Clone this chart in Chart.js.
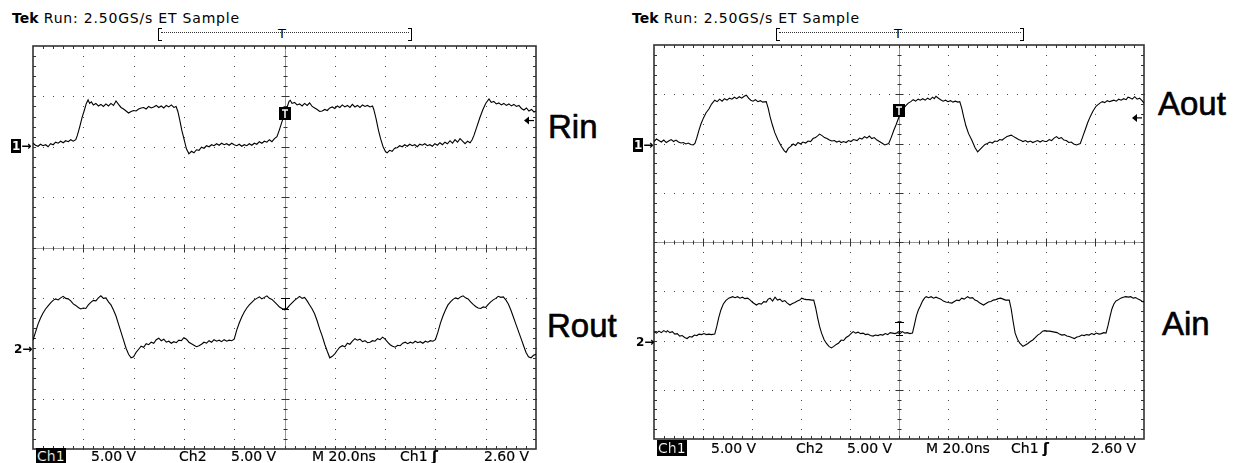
<!DOCTYPE html>
<html>
<head>
<meta charset="utf-8">
<script src="https://cdn.jsdelivr.net/npm/chart.js@4.4.0/dist/chart.umd.min.js"></script>
<style>
  body { margin: 0; width: 1240px; height: 463px; overflow: hidden; position: relative; background: #fff; font-family: "DejaVu Sans", sans-serif; color: #000; }
  .t { position: absolute; white-space: nowrap; line-height: 1; }
  .hdr { font-size: 14px; letter-spacing: 0.8px; }
  .hdr b { font-weight: bold; letter-spacing: 0; }
  .ro { font-size: 14px; -webkit-text-stroke: 0.2px #000; }
  .inv { background: #000; color: #fff; padding: 0 1px; }
  .big { font-family: "Liberation Sans", Arial, sans-serif; font-size: 33px; -webkit-text-stroke: 0.6px #000; }
  .mk { font-size: 12px; font-weight: bold; }
  .brk { position: absolute; height: 11px; width: 3px; border: 1px solid #000; }
  .brk.l { border-right: none; }
  .brk.r { border-left: none; }
  .dots { position: absolute; height: 0; border-top: 1px dotted #333; }
  canvas { position: absolute; }
</style>
</head>
<body>
<!-- left scope -->
<div class="t hdr" style="left:12px; top:11px;"><b>Tek</b> Run: 2.50GS/s ET Sample</div>
<div class="brk l" style="left:158px; top:28px;"></div>
<div class="dots" style="left:161px; top:32px; width:248px;"></div>
<div class="brk r" style="left:408px; top:28px;"></div>
<div class="t" style="left:278px; top:27px; font-size:13px;">T</div>

<!-- right scope -->
<div class="t hdr" style="left:632px; top:11px;"><b>Tek</b> Run: 2.50GS/s ET Sample</div>
<div class="brk l" style="left:776px; top:28px;"></div>
<div class="dots" style="left:779px; top:32px; width:242px;"></div>
<div class="brk r" style="left:1020px; top:28px;"></div>
<div class="t" style="left:894px; top:27px; font-size:13px;">T</div>

<canvas id="leftScope" width="509" height="409" style="left:30px; top:43px;"></canvas>
<canvas id="rightScope" width="496" height="400" style="left:651px; top:42px;"></canvas>

<!-- channel markers -->
<div class="t mk" style="left:11px; top:140px;"><span class="inv">1</span>→</div>
<div class="t mk" style="left:14px; top:343px;">2→</div>
<div class="t mk" style="left:633px; top:139px;"><span class="inv">1</span>→</div>
<div class="t mk" style="left:636px; top:336px;">2→</div>

<!-- trace labels -->
<div class="t big" style="left:548px; top:110px;">Rin</div>
<div class="t big" style="left:547px; top:309px;">Rout</div>
<div class="t big" style="left:1158px; top:87px;">Aout</div>
<div class="t big" style="left:1162px; top:307px;">Ain</div>

<!-- readouts -->
<div class="t ro" style="left:36px; top:449px;"><span class="inv">Ch1</span></div>
<div class="t ro" style="left:91px; top:449px;">5.00 V</div>
<div class="t ro" style="left:179px; top:449px;">Ch2</div>
<div class="t ro" style="left:231px; top:449px;">5.00 V</div>
<div class="t ro" style="left:312px; top:449px;">M 20.0ns</div>
<div class="t ro" style="left:400px; top:449px;">Ch1 <b>ʃ</b></div>
<div class="t ro" style="left:484px; top:449px;">2.60 V</div>

<div class="t ro" style="left:657px; top:441px;"><span class="inv">Ch1</span></div>
<div class="t ro" style="left:711px; top:441px;">5.00 V</div>
<div class="t ro" style="left:796px; top:441px;">Ch2</div>
<div class="t ro" style="left:847px; top:441px;">5.00 V</div>
<div class="t ro" style="left:926px; top:441px;">M 20.0ns</div>
<div class="t ro" style="left:1011px; top:441px;">Ch1 <b>ʃ</b></div>
<div class="t ro" style="left:1091px; top:441px;">2.60 V</div>

<script>
// Time axis: 10 divisions of 20 ns. Vertical: 8 divisions, 5.00 V/div.
const TIME_DIVS = 10;
const NS_PER_DIV = 20;
const V_DIVS = 8;
const VOLTS_PER_DIV = 5;
const CH1_OFFSET_DIV = 2;   // ch1 ground marker
const CH2_OFFSET_DIV = -2;  // ch2 ground marker
const TRIGGER_LEVEL_V = 2.6;
const TRIGGER_TIME_NS = 100;

// [time ns, volts] samples read from the captures
const rinSamples = [
  [0,0.35],[1,0.15],[2,0.05],[3,0.25],[4,0.1],[5,0.2],[6,0.0],[7,0.3],[8,0.2],[9,0.45],
  [10,0.35],[11,0.55],[12,0.4],[13,0.6],[14,0.5],[15,0.7],[16,0.55],[17,0.7],[17.6,1.1],[18.5,1.9],
  [19.5,2.9],[20.5,3.7],[21.2,4.3],[21.9,4.65],[22.5,4.3],[23.2,4.45],[24,4.15],[25,4.3],[26,4.05],[27,4.2],
  [28,4.0],[29,4.25],[30,4.05],[31,4.3],[32,4.1],[33,4.55],[34,4.2],[35,3.9],[36,3.75],[37,3.55],
  [38,3.35],[39,3.5],[40,3.6],[41,3.55],[42,3.75],[43,3.85],[44,3.9],[45,3.75],[46,4.0],[47,3.85],
  [48,3.95],[49,4.1],[50,3.9],[51,4.05],[52,3.85],[53,4.1],[54,3.95],[55,4.15],[56,3.9],[56.9,4.0],
  [57.6,3.5],[58.4,2.6],[59.2,1.6],[60.1,0.7],[61,-0.2],[62,-0.7],[63,-0.45],[64,-0.6],[65,-0.3],[66,-0.35],
  [67,-0.05],[68,-0.15],[69,0.1],[70,0.0],[71,0.2],[72,0.1],[73,0.3],[74,0.15],[75,0.35],[76,0.2],
  [77,0.3],[78,0.15],[79,0.35],[80,0.2],[81,0.1],[82,0.25],[83,0.05],[84,0.2],[85,0.1],[86,0.3],
  [87,0.15],[88,0.35],[89,0.25],[90,0.5],[91,0.35],[92,0.55],[93,0.45],[94,0.7],[95,0.5],[96,0.8],
  [97,1.0],[98,1.7],[99,2.5],[100,3.2],[101,3.9],[101.8,4.5],[102.3,4.6],[103,4.3],[104,4.4],[105,4.15],
  [106,4.25],[107,4.05],[108,4.3],[109,4.1],[110,4.35],[111,4.0],[112,3.85],[113,3.7],[114,3.5],[115,3.55],
  [116,3.7],[117,3.6],[118,3.85],[119,3.95],[120,3.8],[121,4.05],[122,3.9],[123,4.15],[124,3.95],[125,4.1],
  [126,3.9],[127,4.2],[128,3.95],[129,4.1],[130,3.9],[131,4.15],[132,4.0],[133,4.1],[134,3.95],[135,4.05],
  [135.5,3.7],[136.4,2.8],[137.3,1.7],[138.2,0.8],[139.2,0.0],[140.2,-0.5],[140.8,-0.6],[141.8,-0.35],[142.8,-0.45],[143.8,-0.15],
  [144.8,-0.1],[145.8,0.1],[146.8,0.0],[147.8,0.2],[148.8,0.05],[149.8,0.25],[150.8,0.1],[151.8,0.2],[152.8,0.0],[153.8,0.25],
  [154.8,0.15],[155.8,0.3],[156.8,0.1],[157.8,0.2],[158.8,0.05],[159.8,0.3],[160.8,0.15],[161.8,0.4],[162.8,0.2],[163.8,0.45],
  [164.8,0.3],[165.8,0.6],[166.8,0.35],[167.8,0.7],[168.8,0.45],[169.8,0.8],[170.8,0.55],[171.8,0.3],[172.8,0.55],[173.8,0.4],
  [174.6,0.7],[175.3,1.1],[176.5,2.0],[177.7,2.9],[178.9,3.7],[180,4.3],[181.3,4.75],[182.2,4.4],[183.2,4.5],[184.2,4.25],
  [185.2,4.35],[186.2,4.15],[187.2,4.3],[188.2,4.1],[189.2,4.25],[190.2,4.05],[191.2,4.2],[192.2,4.0],[193.2,4.1],[194.2,3.8],
  [195.2,3.65],[196.2,3.85],[197.2,3.55],[198.2,3.7],[199.2,3.45],[200,3.55]
];

const routSamples = [
  [0,0.8],[1,1.6],[2,2.4],[3,3.0],[4,3.5],[5,3.9],[6,4.2],[7,4.5],[8,4.75],[9,4.9],
  [10,4.8],[11,5.0],[12,5.15],[13,4.95],[14,4.9],[15,4.7],[16,4.4],[17,4.25],[18,4.05],[19,3.9],
  [20,4.0],[21,3.95],[22,4.3],[23,4.55],[24,4.75],[25,4.7],[26,5.0],[27,5.2],[28,4.95],[29,5.0],
  [30,4.6],[31,4.3],[32,3.8],[33,3.2],[34,2.4],[35,1.6],[36,0.8],[37,0.0],[38,-0.6],[39,-0.95],
  [40,-0.85],[41,-0.4],[42,-0.1],[43,0.2],[44,0.1],[45,0.45],[46,0.35],[47,0.6],[48,0.5],[49,0.85],
  [50,1.0],[51,0.75],[52,0.9],[53,0.6],[54,0.7],[55,0.5],[56,0.65],[57,0.55],[58,0.8],[59,0.75],
  [60,1.05],[61,0.9],[62,0.6],[63,0.45],[64,0.3],[65,0.15],[66,0.25],[67,0.4],[68,0.6],[69,0.5],
  [70,0.75],[71,0.6],[72,0.85],[73,0.7],[74,0.8],[75,0.65],[76,0.85],[77,0.7],[78,0.8],[79,0.75],
  [80,0.9],[81,1.8],[82,2.5],[83,3.1],[84,3.6],[85,4.0],[86,4.3],[87,4.55],[88,4.8],[89,4.95],
  [90,5.1],[91,4.9],[92,5.05],[93,5.2],[94,4.95],[95,4.85],[96,4.6],[97,4.35],[98,4.1],[99,3.95],
  [100,3.8],[101,3.95],[102,4.25],[103,4.5],[104,4.75],[105,4.95],[106,5.15],[107,4.95],[108,5.05],[109,4.7],
  [110,4.3],[111,3.9],[112,3.4],[113,2.7],[114,1.9],[115,1.2],[116,0.4],[117,-0.3],[118,-0.95],[119,-0.8],
  [120,-0.55],[121,-0.2],[122,0.1],[123,0.25],[124,0.15],[125,0.5],[126,0.4],[127,0.7],[128,0.95],[129,0.8],
  [130,0.9],[131,0.65],[132,0.75],[133,0.55],[134,0.6],[135,0.75],[136,0.7],[137,0.95],[138,0.85],[139,1.1],
  [140,0.9],[141,0.6],[142,0.35],[143,0.2],[144,0.1],[145,0.3],[146,0.25],[147,0.5],[148,0.6],[149,0.45],
  [150,0.6],[151,0.5],[152,0.7],[153,0.55],[154,0.65],[155,0.5],[156,0.7],[157,0.6],[158,0.75],[159,0.7],
  [160,0.85],[161,1.6],[162,2.5],[163,3.2],[164,3.8],[165,4.3],[166,4.6],[167,4.85],[168,5.0],[169,4.9],
  [170,5.1],[171,5.2],[172,5.0],[173,4.9],[174,4.6],[175,4.35],[176,4.15],[177,4.0],[178,3.95],[179,4.1],
  [180,4.05],[181,4.35],[182,4.6],[183,4.8],[184,4.95],[185,5.15],[186,5.05],[187,5.1],[188,4.8],[189,4.4],
  [190,3.8],[191,3.1],[192,2.4],[193,1.7],[194,1.0],[195,0.3],[196,-0.4],[197,-0.85],[198,-0.95],[199,-0.7],
  [200,-0.6]
];

const aoutSamples = [
  [0,0.2],[1,0.45],[2,0.3],[3,0.15],[4,0.35],[5,0.1],[6,0.25],[7,0.4],[8,0.2],[9,0.35],
  [10,0.15],[11,0.05],[12,0.1],[13,-0.05],[14,0.05],[15,-0.1],[16,-0.15],[16.7,0.0],[17.5,0.6],[18.3,1.3],
  [19.2,2.0],[20.2,2.6],[21.2,3.1],[22.4,3.5],[23.5,4.0],[24.8,4.4],[25.8,4.25],[26.8,4.5],[27.8,4.3],[28.8,4.55],
  [29.8,4.4],[30.8,4.6],[31.8,4.5],[32.8,4.7],[33.8,4.55],[34.8,4.75],[35.8,4.6],[36.8,4.8],[37.7,4.9],[38.6,4.6],
  [39.5,4.4],[40.4,4.3],[41.4,4.45],[42.4,4.25],[43.4,4.35],[44.4,4.2],[45.8,4.25],[46.6,3.6],[47.4,2.7],[48.3,1.9],
  [49.3,1.1],[50.6,0.35],[52,-0.3],[53.2,-0.75],[53.9,-0.9],[54.8,-0.5],[55.8,-0.3],[56.8,-0.05],[57.8,-0.2],[58.8,0.1],
  [59.8,-0.05],[60.8,0.15],[61.9,0.05],[62.9,0.25],[63.9,0.2],[64.9,0.5],[65.9,0.6],[66.9,0.8],[67.6,0.95],[68.6,0.8],
  [69.6,0.6],[70.6,0.5],[71.6,0.35],[72.6,0.25],[73.6,0.3],[74.6,0.15],[75.6,0.25],[76.4,0.1],[77.4,0.2],[78.4,0.1],
  [79.4,0.3],[80.4,0.2],[81.4,0.4],[82.9,0.3],[83.9,0.55],[84.9,0.45],[85.9,0.7],[86.9,0.55],[87.9,0.75],[88.9,0.5],
  [89.9,0.6],[91,0.35],[92,0.2],[93,0.05],[94.2,-0.15],[95.8,0.0],[96.8,0.6],[97.8,1.3],[98.8,1.9],[100.3,2.9],
  [101.5,3.4],[102.6,3.8],[103.8,4.1],[104.8,4.25],[105.8,4.45],[106.8,4.3],[107.8,4.5],[108.7,4.4],[109.7,4.55],[110.7,4.4],
  [111.7,4.6],[112.7,4.45],[113.7,4.7],[114.4,4.55],[115.1,4.8],[116.1,4.6],[117,4.45],[118,4.3],[119,4.4],[120,4.25],
  [121,4.35],[122,4.2],[123,4.3],[124,4.2],[124.8,4.25],[125.6,3.6],[126.4,2.7],[127.3,1.8],[128.4,1.0],[129.7,0.35],
  [131,-0.4],[132.1,-0.85],[133.1,-0.6],[134.1,-0.35],[135.1,-0.1],[136.1,0.0],[137.1,0.15],[138.1,0.05],[139.1,0.25],[140.1,0.2],
  [141.1,0.4],[142.1,0.35],[143.1,0.55],[144.1,0.7],[145.8,0.85],[146.8,0.7],[147.8,0.55],[148.8,0.4],[149.8,0.3],[150.6,0.2],
  [151.6,0.3],[152.6,0.15],[153.6,0.25],[154.6,0.1],[155.6,0.2],[156.6,0.3],[157.6,0.15],[158.6,0.3],[159.6,0.2],[160.3,0.2],
  [161.3,0.4],[162.3,0.3],[163.3,0.55],[164.3,0.7],[165.3,0.5],[166.3,0.6],[167.3,0.35],[168.3,0.3],[169.3,0.1],[170.3,0.15],
  [171.3,-0.05],[172.4,-0.15],[174,0.0],[175,0.7],[176,1.4],[177,2.1],[178,2.7],[179.2,3.3],[180.5,3.8],[182,4.1],
  [183,4.25],[184,4.15],[185,4.35],[186,4.25],[187.7,4.4],[188.7,4.3],[189.7,4.5],[190.7,4.4],[191.7,4.55],[192.7,4.45],
  [193.5,4.7],[194.2,4.65],[195.2,4.5],[196.2,4.75],[197.2,4.5],[198.2,4.6],[199.2,4.35],[200,4.1]
];

const ainSamples = [
  [0,0.9],[1,0.75],[2,0.95],[3,0.8],[4,1.0],[5,0.85],[5.5,1.0],[6.5,0.8],[7.5,0.9],[8.5,0.65],
  [9.5,0.7],[10.5,0.45],[11.5,0.5],[12.5,0.3],[13.5,0.2],[14.5,0.4],[15.5,0.35],[16.5,0.55],[17.5,0.5],[18.4,0.65],
  [19.4,0.6],[20.4,0.7],[21.4,0.6],[22.4,0.65],[23.4,0.6],[24.8,0.65],[25.6,1.4],[26.4,2.3],[27.3,3.1],[28.3,3.7],
  [29.3,4.05],[30.5,4.3],[32.1,4.45],[33.1,4.35],[34.1,4.45],[35.1,4.3],[36.1,4.4],[37.1,4.25],[38.2,4.3],[39.3,4.1],
  [40.3,3.85],[41.8,3.6],[42.8,3.75],[43.8,3.7],[44.8,3.95],[45.8,3.9],[46.6,4.2],[47.4,4.3],[48.4,4.0],[49.4,4.4],
  [50.4,4.1],[51.4,4.2],[52.4,3.95],[53.4,4.05],[54.4,3.8],[55.5,3.6],[56.5,3.75],[57.5,3.85],[58.5,4.0],[59.5,4.1],
  [60.3,4.3],[61.3,4.2],[62.3,4.15],[63.3,4.15],[64.3,4.1],[65.2,4.1],[66,3.3],[66.8,2.3],[67.6,1.4],[68.4,0.75],
  [69.4,0.1],[70.4,-0.3],[71.4,-0.6],[72.4,-0.75],[73.4,-0.6],[74.4,-0.4],[75.4,-0.25],[76.4,0.05],[77.4,0.0],[78.4,0.3],
  [79.4,0.45],[80.4,0.7],[81.3,0.9],[82.3,0.75],[83.3,0.85],[84.3,0.7],[85.3,0.75],[86.3,0.6],[87.3,0.65],[88.3,0.5],
  [89.4,0.45],[90.4,0.55],[91.4,0.5],[92.4,0.6],[93.4,0.55],[94.4,0.7],[95.4,0.6],[96.4,0.8],[97.4,0.75],[98.4,0.7],
  [99.4,0.8],[100.4,0.7],[101.4,0.9],[102.4,0.75],[103.4,0.8],[104.4,0.7],[105.5,0.75],[106.3,1.6],[107.1,2.5],[107.9,3.1],
  [108.7,3.5],[109.6,4.0],[110.4,4.3],[111.1,4.45],[112.1,4.35],[113.1,4.45],[114.1,4.3],[115.1,4.4],[116.1,4.3],[117.1,4.2],
  [118.1,4.0],[119.1,3.9],[120.1,3.85],[121.6,3.8],[122.6,3.95],[123.6,4.1],[124.6,4.05],[125.6,4.3],[126.6,4.2],[128,4.45],
  [129,4.3],[130,4.35],[131,4.1],[132,4.0],[133,3.8],[134.5,3.6],[135.5,3.75],[136.5,3.9],[137.5,3.95],[138.5,4.1],
  [139.5,4.15],[140.5,4.25],[141.5,4.3],[142.5,4.2],[143.5,4.1],[145,4.1],[145.8,3.2],[146.6,1.9],[147.4,0.75],[148.4,0.1],
  [149.4,-0.3],[150.6,-0.6],[151.6,-0.45],[152.6,-0.3],[153.6,-0.1],[154.6,0.05],[155.6,0.3],[156.6,0.55],[157.6,0.7],[158.6,0.95],
  [159.5,1.0],[160.5,0.95],[161.5,0.95],[162.5,0.9],[163.5,0.85],[164.5,0.8],[165.5,0.65],[166.5,0.55],[167.5,0.6],[168.5,0.45],
  [169.5,0.4],[170.5,0.3],[171.6,0.2],[172.6,0.35],[173.6,0.4],[174.6,0.55],[175.6,0.5],[176.6,0.6],[177.6,0.55],[178.6,0.7],
  [179.6,0.6],[180.6,0.75],[181.6,0.65],[182.6,0.7],[183.6,0.8],[184.5,0.75],[185.3,1.5],[186.1,2.4],[186.9,3.2],[187.7,3.7],
  [188.5,4.0],[189.3,4.1],[190.5,4.3],[191.5,4.4],[192.6,4.45],[193.6,4.4],[194.6,4.45],[195.6,4.3],[196.6,4.35],[197.6,4.2],
  [198.6,4.1],[199.4,3.95],[200,3.95]
];

// I-beam marker on channel 2 at the trigger time, in volts (bottom, top)
const leftCh2Marker = [3.9, 5.0];
const rightCh2Marker = [0.6, 1.9];

const tEnd = TIME_DIVS * NS_PER_DIV;

function toPoints(samples, offsetDiv) {
  return samples.map(([t, v]) => ({ x: t, y: offsetDiv + v / VOLTS_PER_DIV }));
}

// Oscilloscope graticule, frame and markers
const scopeGraticule = {
  id: "scopeGraticule",
  beforeDatasetsDraw(chart) {
    const { ctx, chartArea: a, scales } = chart;
    const xs = scales.x, ys = scales.y;
    const minorT = NS_PER_DIV / 5;
    ctx.save();

    // dotted division lines
    ctx.fillStyle = "#444";
    for (let i = 1; i < TIME_DIVS; i++) {
      if (i === TIME_DIVS / 2) continue;
      const px = Math.round(xs.getPixelForValue(i * NS_PER_DIV));
      for (let k = 0; k <= V_DIVS * 5; k++) {
        ctx.fillRect(px, Math.round(ys.getPixelForValue(-V_DIVS / 2 + k * 0.2)), 1, 1);
      }
    }
    for (let j = -V_DIVS / 2 + 1; j < V_DIVS / 2; j++) {
      if (j === 0) continue;
      const py = Math.round(ys.getPixelForValue(j));
      for (let k = 0; k <= TIME_DIVS * 5; k++) {
        ctx.fillRect(Math.round(xs.getPixelForValue(k * minorT)), py, 1, 1);
      }
    }

    // center cross with tick marks
    const cx = Math.round(xs.getPixelForValue(tEnd / 2)) + 0.5;
    const cy = Math.round(ys.getPixelForValue(0)) + 0.5;
    ctx.strokeStyle = "#9a9a9a";
    ctx.lineWidth = 1;
    ctx.beginPath();
    ctx.moveTo(a.left, cy); ctx.lineTo(a.right, cy);
    ctx.moveTo(cx, a.top); ctx.lineTo(cx, a.bottom);
    ctx.stroke();
    ctx.strokeStyle = "#333";
    ctx.beginPath();
    for (let k = 1; k < TIME_DIVS * 5; k++) {
      const px = Math.round(xs.getPixelForValue(k * minorT)) + 0.5;
      const len = k % 5 === 0 ? 4 : 2;
      ctx.moveTo(px, cy - len); ctx.lineTo(px, cy + len);
      // frame ticks top / bottom
      ctx.moveTo(px, a.top); ctx.lineTo(px, a.top + 3);
      ctx.moveTo(px, a.bottom); ctx.lineTo(px, a.bottom - 3);
    }
    for (let k = 1; k < V_DIVS * 5; k++) {
      const py = Math.round(ys.getPixelForValue(-V_DIVS / 2 + k * 0.2)) + 0.5;
      const len = k % 5 === 0 ? 4 : 2;
      ctx.moveTo(cx - len, py); ctx.lineTo(cx + len, py);
      ctx.moveTo(a.left, py); ctx.lineTo(a.left + 3, py);
      ctx.moveTo(a.right, py); ctx.lineTo(a.right - 3, py);
    }
    ctx.stroke();

    // frame
    ctx.strokeStyle = "#333";
    ctx.lineWidth = 1.6;
    ctx.strokeRect(a.left, a.top, a.right - a.left, a.bottom - a.top);
    ctx.restore();
  },
  afterDatasetsDraw(chart, args, opts) {
    const { ctx, chartArea: a, scales } = chart;
    const xs = scales.x, ys = scales.y;
    const levelY = ys.getPixelForValue(CH1_OFFSET_DIV + TRIGGER_LEVEL_V / VOLTS_PER_DIV);
    const tx = Math.round(xs.getPixelForValue(TRIGGER_TIME_NS));
    ctx.save();

    // trigger point box
    ctx.fillStyle = "#000";
    ctx.fillRect(tx - 6, Math.round(levelY) - 14, 12, 13);
    ctx.strokeStyle = "#fff";
    ctx.lineWidth = 1.5;
    ctx.beginPath();
    ctx.moveTo(tx - 3, Math.round(levelY) - 11); ctx.lineTo(tx + 3, Math.round(levelY) - 11);
    ctx.moveTo(tx, Math.round(levelY) - 11); ctx.lineTo(tx, Math.round(levelY) - 3);
    ctx.stroke();

    // trigger level arrow at right edge
    ctx.strokeStyle = "#000";
    ctx.fillStyle = "#000";
    ctx.lineWidth = 1.2;
    ctx.beginPath();
    ctx.moveTo(a.right - 2, levelY); ctx.lineTo(a.right - 9, levelY);
    ctx.stroke();
    ctx.beginPath();
    ctx.moveTo(a.right - 12, levelY);
    ctx.lineTo(a.right - 7, levelY - 4);
    ctx.lineTo(a.right - 7, levelY + 4);
    ctx.closePath();
    ctx.fill();

    // I-beam on channel 2
    const [vb, vt] = opts.ch2Marker;
    const yb = Math.round(ys.getPixelForValue(CH2_OFFSET_DIV + vb / VOLTS_PER_DIV)) + 0.5;
    const yt = Math.round(ys.getPixelForValue(CH2_OFFSET_DIV + vt / VOLTS_PER_DIV)) + 0.5;
    ctx.lineWidth = 1;
    ctx.beginPath();
    ctx.moveTo(tx - 4, yt); ctx.lineTo(tx + 5, yt);
    ctx.moveTo(tx + 0.5, yt); ctx.lineTo(tx + 0.5, yb);
    ctx.moveTo(tx - 3, yb); ctx.lineTo(tx + 4, yb);
    ctx.stroke();
    ctx.restore();
  }
};

function makeScope(canvasId, ch1, ch2, ch2Marker) {
  const traceStyle = { borderColor: "#000", borderWidth: 1.1, pointRadius: 0, tension: 0, fill: false };
  return new Chart(document.getElementById(canvasId), {
    type: "line",
    data: {
      datasets: [
        { label: "Ch1", data: toPoints(ch1, CH1_OFFSET_DIV), ...traceStyle },
        { label: "Ch2", data: toPoints(ch2, CH2_OFFSET_DIV), ...traceStyle }
      ]
    },
    options: {
      responsive: false,
      animation: false,
      devicePixelRatio: 1,
      events: [],
      layout: { padding: 3 },
      scales: {
        x: { type: "linear", min: 0, max: tEnd, display: false },
        y: { type: "linear", min: -V_DIVS / 2, max: V_DIVS / 2, display: false }
      },
      plugins: {
        legend: { display: false },
        tooltip: { enabled: false },
        scopeGraticule: { ch2Marker }
      }
    },
    plugins: [scopeGraticule]
  });
}

makeScope("leftScope", rinSamples, routSamples, leftCh2Marker);
makeScope("rightScope", aoutSamples, ainSamples, rightCh2Marker);
</script>
</body>
</html>
